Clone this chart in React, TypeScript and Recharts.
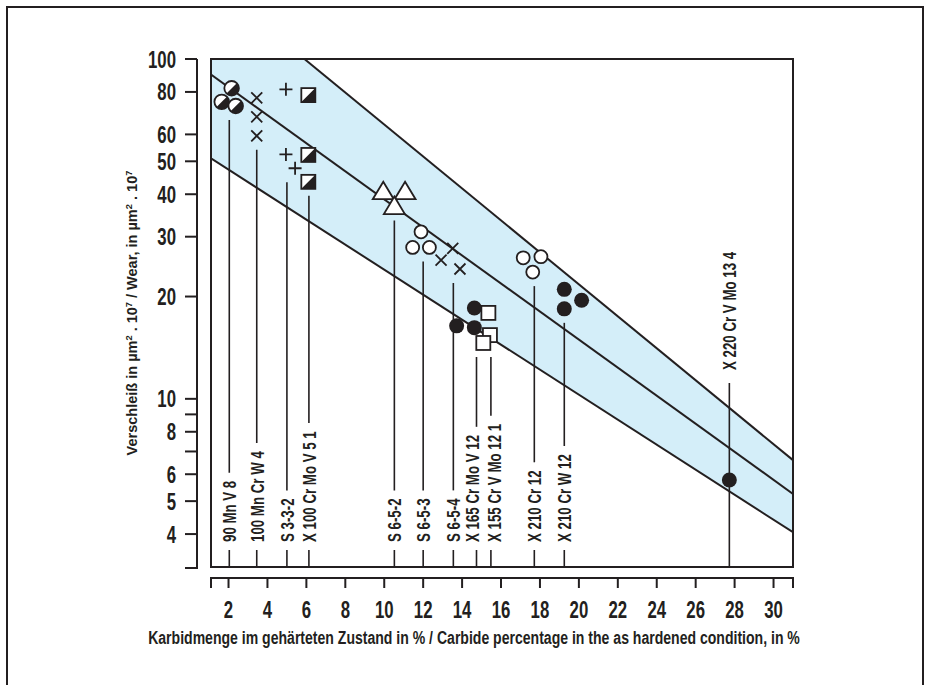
import { Area, ComposedChart, Line, ReferenceArea, ReferenceLine, Scatter, XAxis, YAxis } from "recharts"

const INK = "#231f20"
const BLUE = "#d4eef9"
const FONT = "'Liberation Sans', Arial, sans-serif"
const WEIGHT = 700
const SX = 0.7 // horizontal squeeze, the original uses a condensed face

const X_MIN = 1.1
const X_MAX = 31
const Y_MIN = 3.2
const Y_MAX = 100

const xTicks = [2, 4, 6, 8, 10, 12, 14, 16, 18, 20, 22, 24, 26, 28, 30]
const yTicks = [4, 5, 6, 7, 8, 9, 10, 20, 30, 40, 50, 60, 80, 100]
const yTickLabels = [4, 5, 6, 8, 10, 20, 30, 40, 50, 60, 80, 100]

const X_TITLE = "Karbidmenge im gehärteten Zustand in % / Carbide percentage in the as hardened condition, in %"

// scatter band: upper limit, mean, lower limit
const upperLine = [
  { x: 5.9, y: 100 },
  { x: 31, y: 6.6 },
]
const meanLine = [
  { x: 1.1, y: 90 },
  { x: 31, y: 5.25 },
]
const lowerLine = [
  { x: 1.1, y: 51 },
  { x: 31, y: 4.05 },
]
const bandTop = [{ x: X_MIN, y: Y_MAX }, ...upperLine]

// measured steels
const mnV8 = [
  { x: 2.16, y: 82 },
  { x: 1.65, y: 74.8 },
  { x: 2.37, y: 72.7 },
]
const mnCrW4 = [
  { x: 3.45, y: 76.9 },
  { x: 3.45, y: 67.6 },
  { x: 3.45, y: 59.4 },
]
const s332 = [
  { x: 4.95, y: 81.4 },
  { x: 4.95, y: 52.4 },
  { x: 5.42, y: 47.7 },
]
const x100CrMoV51 = [
  { x: 6.1, y: 78.3 },
  { x: 6.1, y: 52.2 },
  { x: 6.1, y: 43.5 },
]
const s652 = [
  { x: 9.95, y: 40.7 },
  { x: 11.07, y: 40.7 },
  { x: 10.52, y: 36.8 },
]
const s653 = [
  { x: 11.89, y: 31 },
  { x: 11.46, y: 27.9 },
  { x: 12.32, y: 27.9 },
]
const s654 = [
  { x: 13.52, y: 27.7 },
  { x: 12.92, y: 25.6 },
  { x: 13.89, y: 24.1 },
]
const x165CrMoV12 = [
  { x: 14.63, y: 18.5 },
  { x: 13.72, y: 16.4 },
  { x: 14.63, y: 16.2 },
]
const x155CrVMo121 = [
  { x: 15.35, y: 17.9 },
  { x: 15.43, y: 15.4 },
  { x: 15.09, y: 14.6 },
]
const x210Cr12 = [
  { x: 17.14, y: 26 },
  { x: 18.05, y: 26.2 },
  { x: 17.63, y: 23.6 },
]
const x210CrW12 = [
  { x: 19.25, y: 21 },
  { x: 20.14, y: 19.5 },
  { x: 19.25, y: 18.4 },
]
const x220CrVMo134 = [{ x: 27.73, y: 5.77 }]

const leaders = [
  { name: "90 Mn V 8", x: 2.04, pts: mnV8 },
  { name: "100 Mn Cr W 4", x: 3.45, pts: mnCrW4 },
  { name: "S 3-3-2", x: 5.0, pts: s332 },
  { name: "X 100 Cr Mo V 5 1", x: 6.13, pts: x100CrMoV51 },
  { name: "S 6-5-2", x: 10.52, pts: s652 },
  { name: "S 6-5-3", x: 12.0, pts: s653 },
  { name: "S 6-5-4", x: 13.55, pts: s654 },
  { name: "X 165 Cr Mo V 12", x: 14.74, pts: [...x165CrMoV12, ...x155CrVMo121] },
  { name: "X 155 Cr V Mo 12 1", x: 15.48, pts: [...x165CrMoV12, ...x155CrVMo121] },
  { name: "X 210 Cr 12", x: 17.71, pts: x210Cr12 },
  { name: "X 210 Cr W 12", x: 19.25, pts: x210CrW12 },
  { name: "X 220 Cr V Mo 13 4", x: 27.73, pts: x220CrVMo134, above: true },
]

// the two crowded labels sit a little apart from their leader lines
const labelShift: Record<string, number> = {
  "X 165 Cr Mo V 12": -4,
  "X 155 Cr V Mo 12 1": 3,
}

let ctx: CanvasRenderingContext2D | null = null
function textWidth(s: string, size: number) {
  if (!ctx) ctx = document.createElement("canvas").getContext("2d")
  if (!ctx) return s.length * size * 0.5
  ctx.font = `${WEIGHT} ${size}px 'Liberation Sans'`
  return ctx.measureText(s).width
}

function Squeezed({ x, y, text, size, anchor = "start" }: any) {
  return (
    <g transform={`translate(${x},${y}) scale(${SX},1)`}>
      <text x={0} y={0} textAnchor={anchor} fontFamily={FONT} fontWeight={WEIGHT} fontSize={size} fill={INK}>
        {text}
      </text>
    </g>
  )
}

function Marker({ cx, cy, kind }: any) {
  const s = { stroke: INK, strokeWidth: 1.8 }
  if (kind === "halfCircle") {
    const r = 7.3
    const d = r * Math.SQRT1_2
    return (
      <g>
        <circle cx={cx} cy={cy} r={r} fill="#fff" {...s} />
        <path d={`M${cx - d},${cy + d} A${r},${r} 0 0 0 ${cx + d},${cy - d} Z`} fill={INK} />
      </g>
    )
  }
  if (kind === "cross") {
    const a = 5.5
    return <path d={`M${cx - a},${cy - a} L${cx + a},${cy + a} M${cx - a},${cy + a} L${cx + a},${cy - a}`} {...s} />
  }
  if (kind === "plus") {
    const a = 6.5
    return <path d={`M${cx - a},${cy} H${cx + a} M${cx},${cy - a} V${cy + a}`} {...s} />
  }
  if (kind === "halfSquare") {
    const h = 7
    return (
      <g>
        <rect x={cx - h} y={cy - h} width={2 * h} height={2 * h} fill="#fff" {...s} />
        <path d={`M${cx - h},${cy + h} H${cx + h} V${cy - h} Z`} fill={INK} />
      </g>
    )
  }
  if (kind === "square") {
    const h = 7
    return <rect x={cx - h} y={cy - h} width={2 * h} height={2 * h} fill="#fff" {...s} />
  }
  if (kind === "triangle") {
    return <path d={`M${cx},${cy - 10} L${cx + 10.5},${cy + 7.5} L${cx - 10.5},${cy + 7.5} Z`} fill="#fff" {...s} />
  }
  if (kind === "circle") return <circle cx={cx} cy={cy} r={6.5} fill="#fff" {...s} />
  return <circle cx={cx} cy={cy} r={7.5} fill={INK} />
}

function LeaderText({ x, y, name, size }: any) {
  return (
    <g transform={`translate(${x},${y}) rotate(-90) scale(${SX},1)`}>
      <text x={0} y={0} dy="0.36em" fontFamily={FONT} fontWeight={WEIGHT} fontSize={size} fill={INK}>
        {name}
      </text>
    </g>
  )
}

function Leader({ x1, y1, y2, name, above }: any) {
  const size = 19
  const len = textWidth(name, size) * SX
  const tx = x1 + (labelShift[name] || 0)
  const lw = { stroke: INK, strokeWidth: 1.6 }
  if (above) {
    const start = y1 - 110
    return (
      <g>
        <line x1={x1} x2={x1} y1={start + 13} y2={y2} {...lw} />
        <LeaderText x={tx} y={start} name={name} size={size} />
      </g>
    )
  }
  const start = y2 - 25
  return (
    <g>
      <line x1={x1} x2={x1} y1={y1 + 14} y2={start - len - 8} {...lw} />
      <line x1={x1} x2={x1} y1={start + 8} y2={y2} {...lw} />
      <LeaderText x={tx} y={start} name={name} size={size} />
    </g>
  )
}

function XTick({ x, y, payload }: any) {
  return (
    <g>
      <line x1={x} x2={x} y1={y + 11} y2={y + 21} stroke={INK} strokeWidth={2} />
      <Squeezed x={x} y={y + 50.5} text={payload.value} size={24} anchor="middle" />
    </g>
  )
}

function YTick({ x, y, payload }: any) {
  return (
    <g>
      <line x1={x - 26} x2={x - 14} y1={y} y2={y} stroke={INK} strokeWidth={2} />
      {yTickLabels.includes(payload.value) && <Squeezed x={x - 35} y={y + 8.5} text={payload.value} size={24} anchor="end" />}
    </g>
  )
}

function XDecor({ viewBox }: any) {
  const { x, y, width } = viewBox
  const ly = y + 11
  const size = 19
  const k = 652 / textWidth(X_TITLE, size)
  return (
    <g>
      <path d={`M${x},${ly + 10} V${ly} H${x + width} V${ly + 10}`} fill="none" stroke={INK} strokeWidth={2} />
      <g transform={`translate(${x + 263},${y + 77}) scale(${k},1)`}>
        <text x={0} y={0} textAnchor="middle" fontFamily={FONT} fontWeight={WEIGHT} fontSize={size} fill={INK}>
          {X_TITLE}
        </text>
      </g>
    </g>
  )
}

function YDecor({ viewBox }: any) {
  const { x, y, width, height } = viewBox
  const lx = x + width - 14
  const up = -5
  const size = 14
  const k = 285 / (textWidth("Verschleiß in µm . 10 / Wear, in µm . 10", size) + 4 * textWidth("2", 9))
  return (
    <g>
      <path d={`M${lx},${y} V${y + height + 1} H${lx - 12}`} fill="none" stroke={INK} strokeWidth={2} />
      <g transform={`translate(${x + 26},${y + height / 2}) rotate(-90) scale(${k},1)`}>
        <text x={0} y={0} textAnchor="middle" fontFamily={FONT} fontWeight={WEIGHT} fontSize={size} fill={INK}>
          Verschleiß in µm
          <tspan dy={up} fontSize={9}>2</tspan>
          <tspan dy={-up}> . 10</tspan>
          <tspan dy={up} fontSize={9}>7</tspan>
          <tspan dy={-up}> / Wear, in µm</tspan>
          <tspan dy={up} fontSize={9}>2</tspan>
          <tspan dy={-up}> . 10</tspan>
          <tspan dy={up} fontSize={9}>7</tspan>
        </text>
      </g>
    </g>
  )
}

const groups: [any[], string][] = [
  [mnV8, "halfCircle"],
  [mnCrW4, "cross"],
  [s332, "plus"],
  [x100CrMoV51, "halfSquare"],
  [s652, "triangle"],
  [s653, "circle"],
  [s654, "cross"],
  [x165CrMoV12, "dot"],
  [x155CrVMo121, "square"],
  [x210Cr12, "circle"],
  [x210CrW12, "dot"],
  [x220CrVMo134, "dot"],
]

export default function App() {
  return (
    <div style={{ position: "absolute", left: 0, top: 0, width: 930, height: 685, overflow: "hidden", background: "#fff" }}>
      <div
        style={{
          position: "absolute",
          left: 6,
          top: 6,
          width: 914,
          height: 720,
          border: `2px solid ${INK}`,
        }}
      />
      <div style={{ position: "absolute", left: 0, top: 0 }}>
        <ComposedChart width={930} height={685} margin={{ top: 59, right: 137, bottom: 18, left: 111 }}>
          <XAxis
            dataKey="x"
            type="number"
            domain={[X_MIN, X_MAX]}
            allowDataOverflow
            ticks={xTicks}
            interval={0}
            axisLine={false}
            tickLine={false}
            tickSize={0}
            tickMargin={0}
            height={100}
            tick={XTick}
            label={(p: any) => <XDecor viewBox={p.viewBox} />}
          />
          <YAxis
            type="number"
            scale="log"
            domain={[Y_MIN, Y_MAX]}
            allowDataOverflow
            ticks={yTicks}
            interval={0}
            axisLine={false}
            tickLine={false}
            tickSize={0}
            tickMargin={0}
            width={100}
            tick={YTick}
            label={(p: any) => <YDecor viewBox={p.viewBox} />}
          />
          <Area data={bandTop} dataKey="y" baseValue={Y_MIN} fill={BLUE} fillOpacity={1} stroke="none" isAnimationActive={false} />
          <Area data={lowerLine} dataKey="y" baseValue={Y_MIN} fill="#fff" fillOpacity={1} stroke="none" isAnimationActive={false} />
          <ReferenceArea x1={X_MIN} x2={X_MAX} y1={Y_MIN} y2={Y_MAX} fill="none" stroke={INK} strokeWidth={2} ifOverflow="visible" />
          <Line data={upperLine} dataKey="y" stroke={INK} strokeWidth={2} dot={false} activeDot={false} isAnimationActive={false} />
          <Line data={meanLine} dataKey="y" stroke={INK} strokeWidth={2} dot={false} activeDot={false} isAnimationActive={false} />
          <Line data={lowerLine} dataKey="y" stroke={INK} strokeWidth={2} dot={false} activeDot={false} isAnimationActive={false} />
          {leaders.map((l) => (
            <ReferenceLine
              key={l.name}
              segment={[
                { x: l.x, y: Math.min(...l.pts.map((p) => p.y)) },
                { x: l.x, y: Y_MIN },
              ]}
              ifOverflow="visible"
              shape={(p: any) => <Leader {...p} name={l.name} above={l.above} />}
            />
          ))}
          {groups.map(([pts, kind], i) => (
            <Scatter
              key={i}
              data={pts}
              dataKey="y"
              isAnimationActive={false}
              shape={(p: any) => <Marker cx={p.cx} cy={p.cy} kind={kind} />}
            />
          ))}
        </ComposedChart>
      </div>
    </div>
  )
}
